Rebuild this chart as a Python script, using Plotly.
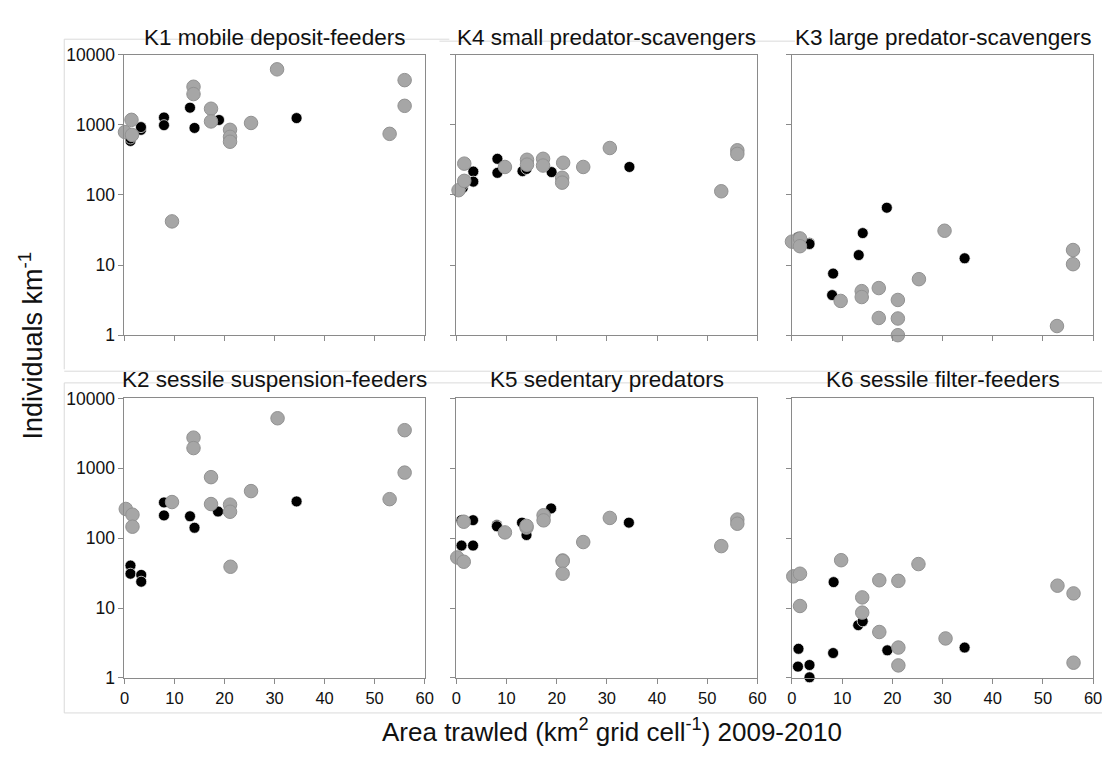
import plotly.graph_objects as go

# ---------------- data ----------------
panel_titles = ["K1 mobile deposit-feeders", "K4 small predator-scavengers", "K3 large predator-scavengers",
                "K2 sessile suspension-feeders", "K5 sedentary predators", "K6 sessile filter-feeders"]

k1_gray_x = [0.1, 1.4, 1.5, 9.5, 13.8, 13.8, 17.3, 17.3, 21.1, 21.1, 21.1, 25.3, 30.5, 53.0, 56.0, 56.0]
k1_gray_y = [790, 1180, 720, 42, 3500, 2750, 1700, 1120, 850, 675, 575, 1065, 6200, 745, 4350, 1870]
k1_black_x = [1.2, 1.2, 3.3, 3.3, 7.9, 7.9, 13.1, 14.0, 18.9, 34.4]
k1_black_y = [590, 640, 850, 930, 1275, 990, 1760, 905, 1175, 1250]

k4_gray_x = [0.46, 1.6, 1.6, 9.7, 14.1, 14.1, 17.3, 17.3, 21.3, 21.1, 21.1, 25.3, 30.6, 52.8, 56.0, 56.0]
k4_gray_y = [117, 280, 159, 251, 318, 271, 328, 263, 288, 176, 150, 251, 468, 113, 434, 385]
k4_black_x = [1.3, 1.3, 3.4, 3.4, 8.2, 8.2, 13.2, 14.0, 19.0, 34.5]
k4_black_y = [126, 140, 216, 155, 328, 207, 219, 235, 212, 251]

k3_gray_x = [0.0, 1.6, 1.6, 9.7, 13.9, 13.9, 17.3, 17.3, 21.1, 21.1, 21.1, 25.3, 30.4, 52.8, 56.0, 56.0]
k3_gray_y = [21.6, 24, 18.6, 3.08, 4.25, 3.5, 4.7, 1.76, 3.18, 1.73, 1.0, 6.3, 30.9, 1.35, 16.4, 10.3]
k3_black_x = [1.2, 1.2, 3.5, 3.5, 8.2, 8.0, 13.3, 14.1, 18.9, 34.4]
k3_black_y = [25, 22, 20.7, 20, 7.57, 3.73, 13.9, 28.6, 65.8, 12.5]

k2_gray_x = [0.26, 1.6, 1.6, 9.5, 13.8, 13.8, 17.3, 17.3, 21.1, 21.1, 21.2, 25.3, 30.6, 53.0, 56.0, 56.0]
k2_gray_y = [262, 217, 146, 329, 2750, 1950, 748, 308, 302, 239, 39, 472, 5210, 362, 3515, 868]
k2_black_x = [1.2, 1.2, 3.35, 3.35, 7.9, 7.9, 13.1, 14.0, 18.7, 34.4]
k2_black_y = [40.6, 31, 29.8, 23.8, 325, 212, 206, 141, 241, 336]

k5_gray_x = [0.2, 1.5, 1.5, 9.7, 14.0, 14.0, 17.4, 17.4, 21.2, 21.2, 21.2, 25.3, 30.6, 52.8, 56.0, 56.0]
k5_gray_y = [53, 172, 46, 121, 142, 150, 213, 180, 48, 47, 31, 88, 195, 77, 185, 161]
k5_black_x = [1.05, 1.05, 3.35, 3.35, 8.1, 8.1, 13.1, 14.0, 18.9, 34.4]
k5_black_y = [181, 78.5, 181, 78.5, 154, 148, 167, 111, 267, 167]

k6_gray_x = [0.26, 1.6, 1.6, 9.8, 14.0, 14.0, 17.4, 17.4, 21.2, 21.2, 21.2, 25.2, 30.6, 52.9, 56.1, 56.1]
k6_gray_y = [28.4, 31, 10.7, 48.4, 14.2, 8.6, 25, 4.54, 24.5, 2.72, 1.51, 42.6, 3.67, 20.9, 16.2, 1.65]
k6_black_x = [1.3, 1.2, 3.5, 3.5, 8.3, 8.2, 13.2, 14.1, 19.0, 34.4]
k6_black_y = [2.61, 1.45, 1.53, 1.02, 23.5, 2.27, 5.69, 6.46, 2.48, 2.72]

y_tickvals = [1, 10, 100, 1000, 10000]
y_ticktext = ["1", "10", "100", "1000", "10000"]
x_tickvals = [0, 10, 20, 30, 40, 50, 60]

panels = [
    (k1_gray_x, k1_gray_y, k1_black_x, k1_black_y),
    (k4_gray_x, k4_gray_y, k4_black_x, k4_black_y),
    (k3_gray_x, k3_gray_y, k3_black_x, k3_black_y),
    (k2_gray_x, k2_gray_y, k2_black_x, k2_black_y),
    (k5_gray_x, k5_gray_y, k5_black_x, k5_black_y),
    (k6_gray_x, k6_gray_y, k6_black_x, k6_black_y),
]

# ---------------- layout geometry ----------------
W, H = 1111, 758
col_px = [(121, 425), (457, 762), (797, 1102)]
row_px = [(46, 334), (399, 686)]

FONT = "Liberation Sans, Arial, sans-serif"
AXIS_COL = "#8a8a8a"
TXT = "#111111"

fig = go.Figure()
layout = dict(
    width=W, height=H,
    margin=dict(l=0, r=0, t=0, b=0),
    paper_bgcolor="white", plot_bgcolor="white",
    showlegend=False,
    font=dict(family=FONT, color=TXT),
)

annotations = []
for i, (gx, gy, bx, by) in enumerate(panels):
    r, c = divmod(i, 3)
    n = "" if i == 0 else str(i + 1)
    x0, x1 = col_px[c]
    y0, y1 = row_px[r]
    xd = [x0 / W, x1 / W]
    yd = [1 - y1 / H, 1 - y0 / H]
    layout["xaxis" + n] = dict(
        domain=xd, anchor="y" + n, range=[0, 60], tickvals=x_tickvals,
        showticklabels=(r == 1), ticks="outside", ticklen=5, tickcolor=AXIS_COL,
        showline=True, linecolor=AXIS_COL, linewidth=1, mirror=True,
        showgrid=False, zeroline=False, tickfont=dict(size=16.5, family=FONT, color=TXT),
    )
    layout["yaxis" + n] = dict(
        domain=yd, anchor="x" + n, type="log", range=[0, 4],
        tickvals=y_tickvals, ticktext=y_ticktext,
        showticklabels=(c == 0), ticks="outside", ticklen=5, tickcolor=AXIS_COL,
        showline=True, linecolor=AXIS_COL, linewidth=1, mirror=True,
        showgrid=False, zeroline=False, tickfont=dict(size=17.5, family=FONT, color=TXT),
    )
    fig.add_trace(go.Scatter(
        x=bx, y=by, mode="markers", xaxis="x" + n, yaxis="y" + n, cliponaxis=False,
        marker=dict(size=11, color="#000000", line=dict(color="rgba(255,255,255,0.7)", width=1)),
    ))
    fig.add_trace(go.Scatter(
        x=gx, y=gy, mode="markers", xaxis="x" + n, yaxis="y" + n, cliponaxis=False,
        marker=dict(size=13.5, color="#a6a6a6", line=dict(color="#929292", width=1)),
    ))
    title_y_px = 28 if r == 0 else 380
    annotations.append(dict(
        text=panel_titles[i], xref="paper", yref="paper",
        x=(x0 + x1) / 2 / W, y=1 - title_y_px / H, xanchor="center", yanchor="middle",
        showarrow=False, font=dict(size=22.5, family=FONT, color=TXT),
    ))

annotations.append(dict(
    text="Individuals km<sup>-1</sup>", xref="paper", yref="paper",
    x=26 / W, y=1 - 345 / H, xanchor="center", yanchor="middle", textangle=-90,
    showarrow=False, font=dict(size=27, family=FONT, color=TXT),
))
annotations.append(dict(
    text="Area trawled (km<sup>2</sup> grid cell<sup>-1</sup>) 2009-2010", xref="paper", yref="paper",
    x=615 / W, y=1 - 740 / H, xanchor="center", yanchor="middle",
    showarrow=False, font=dict(size=26, family=FONT, color=TXT),
))
layout["annotations"] = annotations

# faint chart-area border remnants seen in the reference
LC = "#dadada"
def hline(y, xa, xb):
    return dict(type="line", xref="paper", yref="paper", x0=xa / W, x1=xb / W,
                y0=1 - y / H, y1=1 - y / H, line=dict(color=LC, width=1), layer="below")
def vline(x, ya, yb):
    return dict(type="line", xref="paper", yref="paper", x0=x / W, x1=x / W,
                y0=1 - ya / H, y1=1 - yb / H, line=dict(color=LC, width=1), layer="below")
layout["shapes"] = [
    hline(30, 60, 450), hline(32, 440, 800),
    vline(60, 30, 369), hline(371, 60, 1111), hline(383, 60, 1111),
    vline(60, 383, 722), hline(722, 60, 1111),
]

fig.update_layout(**layout)
fig.write_html("out.html", config={"displayModeBar": False},
               post_script="document.body.style.margin='0px';")
